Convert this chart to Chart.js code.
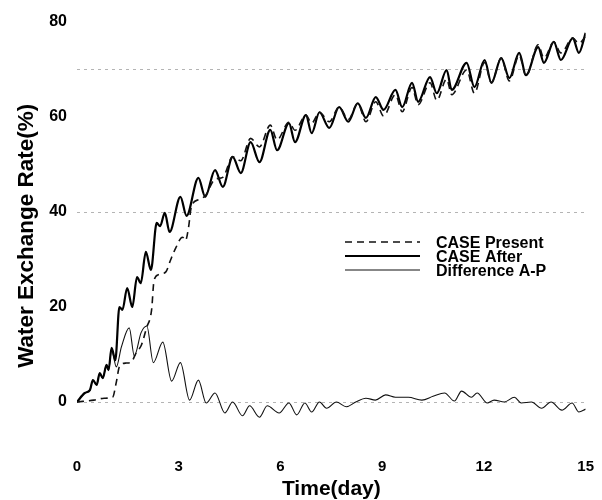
<!DOCTYPE html>
<html>
<head>
<meta charset="utf-8">
<title>Water Exchange Rate</title>
<script src="https://cdn.jsdelivr.net/npm/chart.js@4.4.1/dist/chart.umd.min.js"></script>
<style>
	html, body { margin: 0; padding: 0; background: #fff; }
	#wrap { position: relative; width: 602px; height: 500px; }
</style>
</head>
<body>
<div id="wrap"><canvas id="rateChart"></canvas></div>
<script>
// values (day, %)
const seriesLabels = ['CASE Present', 'CASE After', 'Difference A-P'];

const presentDays = [0, 0.5, 0.8, 1.05, 1.16, 1.25, 1.45, 1.6, 1.74, 1.9, 2.05, 2.2, 2.27, 2.4, 2.62, 2.76, 2.91, 3.11, 3.2, 3.29, 3.37, 3.58, 3.78, 4.07, 4.3, 4.59, 4.83, 5.12, 5.38, 5.7, 5.9, 6.25, 6.43, 6.75, 6.92, 7.15, 7.44, 7.73, 8.0, 8.28, 8.52, 8.81, 9.04, 9.39, 9.59, 9.88, 10.06, 10.41, 10.61, 10.9, 11.05, 11.49, 11.72, 12.02, 12.22, 12.51, 12.75, 13.04, 13.24, 13.6, 13.77, 14.06, 14.27, 14.62, 14.8, 15.0];
const presentValues = [0, 0.4, 0.8, 1, 4.2, 7.4, 8.2, 8.4, 10.3, 12, 15.6, 19.4, 25.5, 26.8, 27.4, 29.9, 32.4, 34.7, 34, 36.8, 41, 42.6, 43.4, 46.9, 47.3, 51.6, 50.8, 55.5, 53.7, 58.3, 55.2, 58.9, 57.2, 60.4, 58.7, 61, 59, 62.1, 59.5, 62.9, 59, 63.2, 60.2, 64.7, 61.1, 66.2, 62.6, 67.2, 63.5, 68, 64.7, 69.9, 65, 71.5, 67.2, 72.4, 67.6, 73, 68.6, 75.2, 72.4, 75.8, 73.5, 76.6, 75.5, 77];

const afterDays = [0, 0.23, 0.38, 0.47, 0.58, 0.67, 0.76, 0.87, 0.93, 1.02, 1.13, 1.25, 1.34, 1.48, 1.63, 1.77, 1.88, 2.03, 2.18, 2.35, 2.45, 2.59, 2.73, 3.05, 3.23, 3.58, 3.78, 4.07, 4.3, 4.59, 4.83, 5.12, 5.38, 5.7, 5.9, 6.25, 6.43, 6.75, 6.92, 7.15, 7.44, 7.73, 8.0, 8.28, 8.52, 8.81, 9.04, 9.39, 9.59, 9.88, 10.06, 10.41, 10.61, 10.9, 11.05, 11.49, 11.72, 12.02, 12.22, 12.51, 12.75, 13.04, 13.24, 13.6, 13.77, 14.06, 14.27, 14.62, 14.8, 15.0];
const afterValues = [0, 1.9, 2.5, 4.6, 3.6, 6.1, 5, 7.8, 6.7, 11.4, 8.8, 20, 19.4, 24, 20, 26.3, 25, 31.6, 27.8, 37.7, 37, 39.8, 35.8, 43.2, 39.2, 47.2, 43.2, 48.8, 45.3, 51.6, 48.2, 54.7, 50.5, 57.3, 53, 58.7, 54.7, 60.4, 56.6, 61, 57.7, 62.1, 59, 62.9, 59.8, 64.2, 61.5, 65.7, 62.1, 67.2, 63.2, 68.4, 65, 69.9, 65.7, 71.4, 66.3, 72, 67.2, 72.4, 68.2, 73.5, 68.8, 74.7, 71.4, 75.8, 72, 76.6, 73.5, 77.7];

const diffDays = [0, 0.23, 0.38, 0.47, 0.58, 0.67, 0.76, 0.87, 0.93, 1.02, 1.16, 1.31, 1.54, 1.69, 1.89, 2.06, 2.25, 2.53, 2.79, 3.05, 3.32, 3.58, 3.81, 4.07, 4.36, 4.59, 4.88, 5.09, 5.38, 5.61, 5.96, 6.25, 6.48, 6.72, 6.92, 7.15, 7.36, 7.65, 7.94, 8.22, 8.52, 8.8, 9.1, 9.39, 9.77, 10.17, 10.5, 10.84, 11.13, 11.34, 11.63, 11.8, 12.1, 12.3, 12.6, 12.9, 13.1, 13.4, 13.7, 13.98, 14.3, 14.6, 14.8, 15.0];
const diffValues = [0, 1.9, 2.5, 4.6, 3.6, 6.1, 5, 7.8, 6.7, 11, 7.4, 11.6, 15.6, 9.7, 14.6, 16, 8.3, 12.6, 4.4, 8.3, 0.4, 4.6, -0.2, 1.9, -2.3, 0, -2.9, -0.8, -3.2, -0.8, -2.3, -0.2, -2.7, -0.2, -2.1, 0, -1.3, 0, -1, 0, 0.8, 0.4, 1.5, 1, 1, 0.4, 1.2, 1.9, 0.2, 2.3, 1, 1.9, -0.2, 0.4, 0, 1, -0.2, 0, -1.3, 0, -1.7, -0.2, -2.1, -1.5];

const xTickValues = [0, 3, 6, 9, 12, 15];
const yTickValues = [0, 20, 40, 60, 80];
const yGridValues = [0, 40, 70];

const fontFamily = "'Liberation Sans', Arial, sans-serif";

function toPoints(days, values) {
	return days.map((d, i) => ({ x: d, y: values[i] }));
}

// legend drawn inside the plot, like the original figure
const innerLegend = {
	id: 'innerLegend',
	afterDraw(chart) {
		const ctx = chart.ctx;
		const x0 = 345, x1 = 420, textX = 436;
		const rows = [242, 256, 270];
		ctx.save();
		ctx.font = 'bold 16px ' + fontFamily;
		ctx.textBaseline = 'alphabetic';
		ctx.fillStyle = '#000';
		chart.data.datasets.forEach((ds, i) => {
			const y = rows[i];
			ctx.beginPath();
			ctx.strokeStyle = ds.borderColor;
			ctx.lineWidth = ds.borderWidth;
			ctx.setLineDash(ds.borderDash || []);
			ctx.moveTo(x0, y);
			ctx.lineTo(x1, y);
			ctx.stroke();
			ctx.setLineDash([]);
			ctx.fillText(ds.label, textX, y + 5.8);
		});
		ctx.restore();
	}
};

const ctx = document.getElementById('rateChart').getContext('2d');

new Chart(ctx, {
	type: 'line',
	data: {
		datasets: [{
			label: seriesLabels[0],
			data: toPoints(presentDays, presentValues),
			borderColor: '#111',
			borderWidth: 1.6,
			borderDash: [7, 5],
			pointRadius: 0,
			cubicInterpolationMode: 'monotone'
		}, {
			label: seriesLabels[1],
			data: toPoints(afterDays, afterValues),
			borderColor: '#000',
			borderWidth: 2.2,
			pointRadius: 0,
			cubicInterpolationMode: 'monotone'
		}, {
			label: seriesLabels[2],
			data: toPoints(diffDays, diffValues),
			borderColor: '#111',
			borderWidth: 1.1,
			pointRadius: 0,
			cubicInterpolationMode: 'monotone'
		}]
	},
	options: {
		responsive: true,
		maintainAspectRatio: false,
		animation: false,
		layout: { padding: { top: 22, right: 12, left: 0, bottom: 0 } },
		plugins: {
			legend: { display: false },
			tooltip: { enabled: false }
		},
		scales: {
			x: {
				type: 'linear',
				min: 0,
				max: 15,
				afterBuildTicks: scale => { scale.ticks = xTickValues.map(v => ({ value: v })); },
				afterFit: scale => { scale.height = 50.5; },
				border: { display: false },
				grid: { display: false, drawTicks: false },
				ticks: {
					padding: 8,
					color: '#000',
					font: { family: fontFamily, size: 15, weight: 'bold' }
				},
				title: {
					display: true,
					text: 'Time(day)',
					color: '#000',
					padding: { top: 0, bottom: 0 },
					font: { family: fontFamily, size: 21, weight: 'bold', lineHeight: 1 }
				}
			},
			y: {
				min: -10,
				max: 80,
				afterBuildTicks: scale => { scale.ticks = yTickValues.concat(yGridValues.filter(v => !yTickValues.includes(v))).map(v => ({ value: v })); },
				afterFit: scale => { scale.width = 77; },
				border: { display: false, dash: [3, 4] },
				grid: {
					drawTicks: false,
					color: c => yGridValues.includes(c.tick.value) ? '#b4b4b4' : 'rgba(0,0,0,0)',
					lineWidth: 1
				},
				ticks: {
					padding: 10,
					color: '#000',
					font: { family: fontFamily, size: 16, weight: 'bold' },
					callback: v => yTickValues.includes(v) ? v : ''
				},
				title: {
					display: true,
					text: 'Water Exchange Rate(%)',
					color: '#000',
					padding: { top: 16, bottom: 0 },
					font: { family: fontFamily, size: 22.5, weight: 'bold', lineHeight: 1 }
				}
			}
		}
	},
	plugins: [innerLegend]
});
</script>
</body>
</html>
